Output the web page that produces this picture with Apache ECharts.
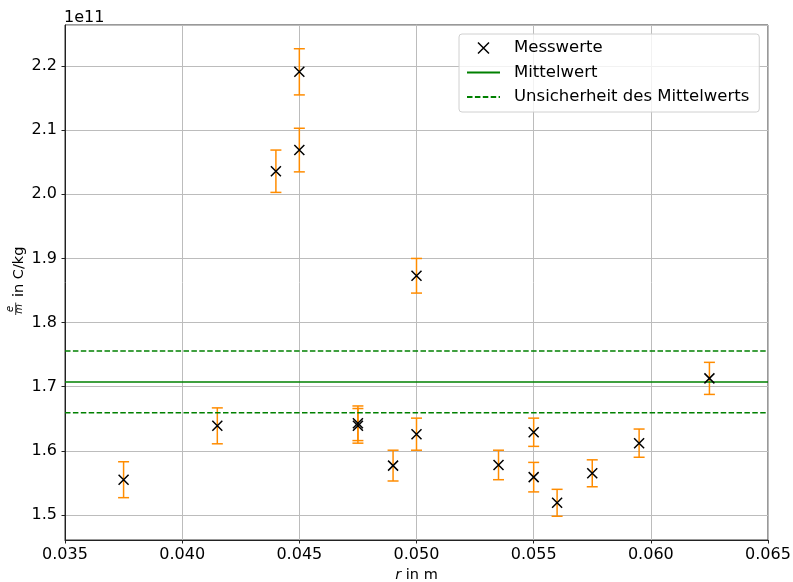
<!DOCTYPE html>
<html>
<head>
<meta charset="utf-8">
<script src="https://cdn.jsdelivr.net/npm/echarts@6/dist/echarts.min.js"></script>
<style>html,body{margin:0;padding:0;background:#fff}#c{width:793px;height:582px}</style>
</head>
<body>
<div id="c"></div>
<script>
// r in m
const xVals = [0.0375, 0.0415, 0.044, 0.045, 0.045, 0.0475, 0.0475, 0.049, 0.050, 0.050, 0.0535, 0.055, 0.055, 0.056, 0.0575, 0.0595, 0.0625];
// e/m in units of 1e11 C/kg
const yVals = [1.555, 1.639, 2.036, 2.191, 2.069, 1.643, 1.639, 1.577, 1.626, 1.873, 1.578, 1.629, 1.559, 1.519, 1.565, 1.612, 1.713];
const yErr  = [0.028, 0.028, 0.033, 0.036, 0.034, 0.027, 0.027, 0.024, 0.025, 0.027, 0.023, 0.022, 0.023, 0.021, 0.021, 0.022, 0.025];
const meanValue = 1.7075;
const meanErr = 0.048;
const xMin = 0.035, xMax = 0.065, xStep = 0.005;
const yMin = 1.461, yMax = 2.264;
const seriesNames = ['Messwerte', 'Mittelwert', 'Unsicherheit des Mittelwerts'];

const FONT = 'DejaVu Sans';
const chart = echarts.init(document.getElementById('c'), null, {renderer: 'canvas'});

const points = xVals.map((x, i) => [x, yVals[i], yErr[i]]);
const errColor = '#ff8c00';
const noSymbol = {color: 'rgba(0,0,0,0)', borderColor: 'rgba(0,0,0,0)', borderWidth: 0, opacity: 0};

const option = {
  animation: false,
  backgroundColor: '#fff',
  grid: {left: 65, right: 25, top: 25, bottom: 42, containLabel: false, outerBoundsMode: 'none',
    show: true, borderColor: '#333', borderWidth: 1, backgroundColor: 'transparent'},
  xAxis: {
    type: 'value', min: xMin, max: xMax, interval: xStep,
    axisLine: {show: true, onZero: false, lineStyle: {color: '#222', width: 1}},
    axisTick: {show: true, inside: false, length: 3.5, lineStyle: {color: '#222'}},
    axisLabel: {fontFamily: FONT, fontSize: 16, color: '#000', margin: 7, formatter: v => v.toFixed(3)},
    splitLine: {show: true, lineStyle: {color: '#bcbcbc', width: 1}},
    name: '{it|r} in m', nameLocation: 'middle', nameGap: 24,
    nameTextStyle: {fontFamily: FONT, fontSize: 14.5, color: '#000', rich: {it: {fontFamily: FONT, fontSize: 14.5, fontStyle: 'italic', color: '#000'}}}
  },
  yAxis: {
    type: 'value', min: yMin, max: yMax, splitNumber: 8, scale: true,
    axisLine: {show: true, onZero: false, lineStyle: {color: '#222', width: 1}},
    axisTick: {show: true, inside: false, length: 3.5, lineStyle: {color: '#222'}},
    axisLabel: {fontFamily: FONT, fontSize: 16, color: '#000', margin: 8, showMinLabel: false, showMaxLabel: false,
      formatter: v => (Math.abs(v * 10 - Math.round(v * 10)) < 1e-6 ? v.toFixed(1) : '')},
    splitLine: {show: true, lineStyle: {color: '#bcbcbc', width: 1}}
  },
  legend: {
    orient: 'vertical', left: 459, top: 34, padding: [4, 10, 5, 7],
    itemWidth: 33, itemHeight: 11, itemGap: 4.5, selectedMode: false,
    backgroundColor: 'rgba(255,255,255,0.8)', borderColor: '#d0d0d0', borderWidth: 1, borderRadius: 3,
    textStyle: {fontFamily: FONT, fontSize: 16.5, color: '#000', lineHeight: 20, padding: [0, 0, 0, 9]},
    data: [
      {name: seriesNames[0], icon: 'path://M0,0L10,10M0,10L10,0', itemStyle: {color: 'rgba(0,0,0,0)', borderColor: '#000', borderWidth: 1.5}},
      {name: seriesNames[1], itemStyle: noSymbol},
      {name: seriesNames[2], itemStyle: noSymbol}
    ]
  },
  series: [
    {
      type: 'custom', name: 'err', z: 3,
      data: points,
      renderItem: (params, api) => {
        const x = api.value(0), y = api.value(1), e = api.value(2);
        const t = api.coord([x, y + e]);
        const b = api.coord([x, y - e]);
        const cw = 5.5;
        const st = {stroke: errColor, lineWidth: 1.5};
        return {type: 'group', children: [
          {type: 'line', shape: {x1: t[0], y1: t[1], x2: b[0], y2: b[1]}, style: st},
          {type: 'line', shape: {x1: t[0] - cw, y1: t[1], x2: t[0] + cw, y2: t[1]}, style: st},
          {type: 'line', shape: {x1: b[0] - cw, y1: b[1], x2: b[0] + cw, y2: b[1]}, style: st}
        ]};
      }
    },
    {
      type: 'line', name: seriesNames[1], z: 4,
      data: [[xMin, meanValue], [xMax, meanValue]],
      symbol: 'none', lineStyle: {color: '#008000', width: 1.5}, itemStyle: {color: '#008000'}
    },
    {
      type: 'line', name: seriesNames[2], z: 4,
      data: [[xMin, meanValue + meanErr], [xMax, meanValue + meanErr]],
      symbol: 'none', lineStyle: {color: '#008000', width: 1.5, type: [5.5, 2.4]}, itemStyle: {color: '#008000'}
    },
    {
      type: 'line', name: seriesNames[2], z: 4,
      data: [[xMin, meanValue - meanErr], [xMax, meanValue - meanErr]],
      symbol: 'none', lineStyle: {color: '#008000', width: 1.5, type: [5.5, 2.4]}, itemStyle: {color: '#008000'}
    },
    {
      type: 'scatter', name: seriesNames[0], z: 5,
      data: points.map(p => [p[0], p[1]]),
      symbol: 'path://M0,0L10,10M0,10L10,0', symbolSize: 10,
      itemStyle: {color: 'rgba(0,0,0,0)', borderColor: '#000', borderWidth: 1.5, opacity: 1}
    }
  ],
  graphic: [
    {type: 'text', left: 64, top: 10, style: {text: '1e11', font: '16px "DejaVu Sans"', fill: '#000'}},
    {
      type: 'group', x: 24.3, y: 316, rotation: Math.PI / 2,
      children: [
        {type: 'text', x: 7, y: -9.2, style: {text: 'e', font: 'italic 10px "DejaVu Sans"', fill: '#000', align: 'center', verticalAlign: 'bottom'}},
        {type: 'line', shape: {x1: 1, y1: -8.6, x2: 13.5, y2: -8.6}, style: {stroke: '#000', lineWidth: 0.8}},
        {type: 'text', x: 7, y: -4.8, style: {text: 'm', font: 'italic 10px "DejaVu Sans"', fill: '#000', align: 'center', verticalAlign: 'middle'}},
        {type: 'text', x: 19, y: -5.2, style: {text: 'in C/kg', font: '14.5px "DejaVu Sans"', fill: '#000', align: 'left', verticalAlign: 'middle'}}
      ]
    }
  ]
};
chart.setOption(option);
</script>
</body>
</html>
